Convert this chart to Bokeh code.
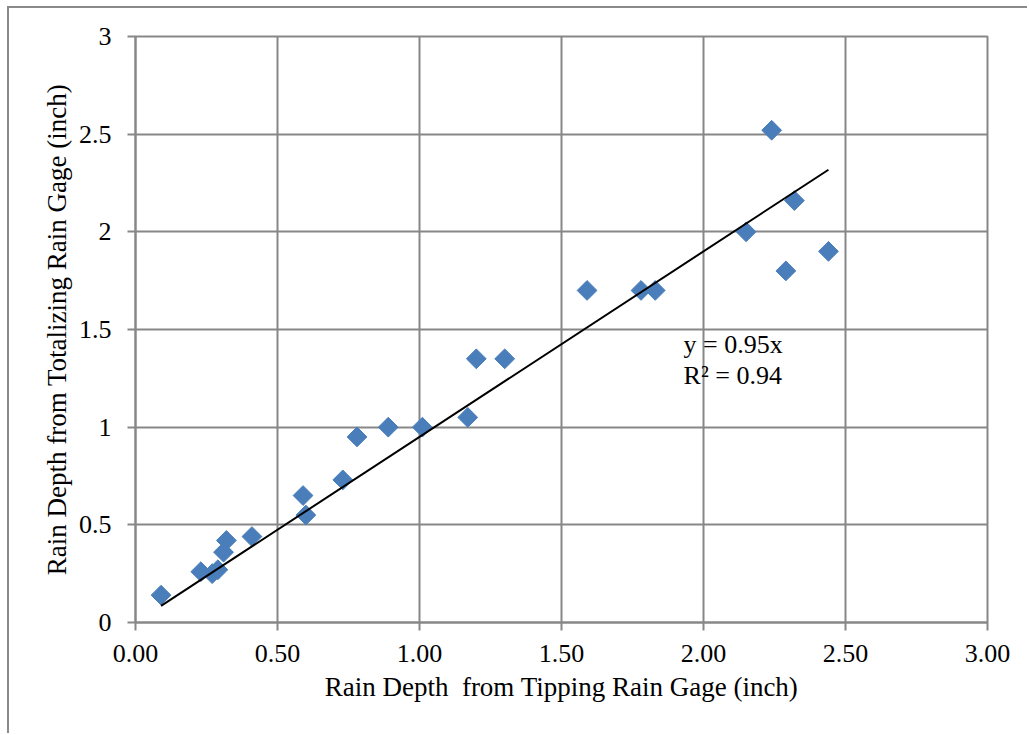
import numpy as np
from bokeh.plotting import figure
from bokeh.models import Range1d, FixedTicker, Label
from bokeh.embed import file_html
from bokeh.resources import INLINE

# Data
tipping = [0.09, 0.23, 0.27, 0.29, 0.31, 0.32, 0.41, 0.59, 0.60, 0.73, 0.78, 0.89,
           1.01, 1.17, 1.20, 1.30, 1.59, 1.78, 1.83, 2.15, 2.24, 2.29, 2.32, 2.44]
totalizing = [0.14, 0.26, 0.25, 0.27, 0.36, 0.42, 0.44, 0.65, 0.55, 0.73, 0.95, 1.00,
              1.00, 1.05, 1.35, 1.35, 1.70, 1.70, 1.70, 2.00, 2.52, 1.80, 2.16, 1.90]
slope = 0.95
r_squared = 0.94

x_ticks = [0.0, 0.5, 1.0, 1.5, 2.0, 2.5, 3.0]
x_tick_labels = ["0.00", "0.50", "1.00", "1.50", "2.00", "2.50", "3.00"]
y_ticks = [0.0, 0.5, 1.0, 1.5, 2.0, 2.5, 3.0]
y_tick_labels = ["0", "0.5", "1", "1.5", "2", "2.5", "3"]

FONT = "Liberation Serif"
GRID = "#878787"

p = figure(width=1020, height=727, output_backend="svg", toolbar_location=None,
           x_range=Range1d(0, 3), y_range=Range1d(0, 3),
           min_border_left=126, min_border_right=42,
           min_border_top=28, min_border_bottom=113,
           background_fill_color="white", border_fill_color="white")
p.margin = (6, 0, 0, 7)
p.styles = {"border-left": "2px solid #8a8a8a", "border-top": "2px solid #8a8a8a"}

p.outline_line_color = GRID
p.outline_line_width = 2

for ax, ticks, labels in ((p.xaxis[0], x_ticks, x_tick_labels), (p.yaxis[0], y_ticks, y_tick_labels)):
    ax.ticker = FixedTicker(ticks=ticks)
    ax.major_label_overrides = {t: l for t, l in zip(ticks, labels)}
    ax.axis_line_color = GRID
    ax.axis_line_width = 2
    ax.major_tick_line_color = GRID
    ax.major_tick_line_width = 2
    ax.major_tick_in = 0
    ax.major_tick_out = 8
    ax.minor_tick_line_color = None
    ax.major_label_text_font = FONT
    ax.major_label_text_font_size = "26px"
    ax.major_label_text_color = "black"
    ax.axis_label_text_font = FONT
    ax.axis_label_text_font_size = "27px"
    ax.axis_label_text_font_style = "normal"
    ax.axis_label_text_color = "black"

p.xaxis.axis_label = "Rain Depth \u00a0from Tipping Rain Gage (inch)"
p.yaxis.axis_label = "Rain Depth from Totalizing Rain Gage (inch)"
p.xaxis.major_label_standoff = 14
p.yaxis.major_label_standoff = 16
p.xaxis.axis_label_standoff = 7
p.yaxis.axis_label_standoff = 4

p.xgrid.ticker = FixedTicker(ticks=x_ticks)
p.ygrid.ticker = FixedTicker(ticks=y_ticks)
p.grid.grid_line_color = GRID
p.grid.grid_line_width = 2

p.scatter(tipping, totalizing, marker="square", size=14, angle=np.pi / 4,
          fill_color="#4A7EBB", line_color="#4A7EBB", line_width=1)

xs = np.array(tipping)
x0, x1 = xs.min(), xs.max()
p.line([x0, x1], [slope * x0, slope * x1], line_color="black", line_width=2)

p.add_layout(Label(x=1.93, y=1.423, text=f"y = {slope:.2f}x", text_font=FONT,
                   text_font_size="26px", text_color="black", text_baseline="alphabetic"))
p.add_layout(Label(x=1.93, y=1.265, text=f"R\u00b2 = {r_squared:.2f}", text_font=FONT,
                   text_font_size="26px", text_color="black", text_baseline="alphabetic"))

open("out.html", "w").write(file_html(p, INLINE))
